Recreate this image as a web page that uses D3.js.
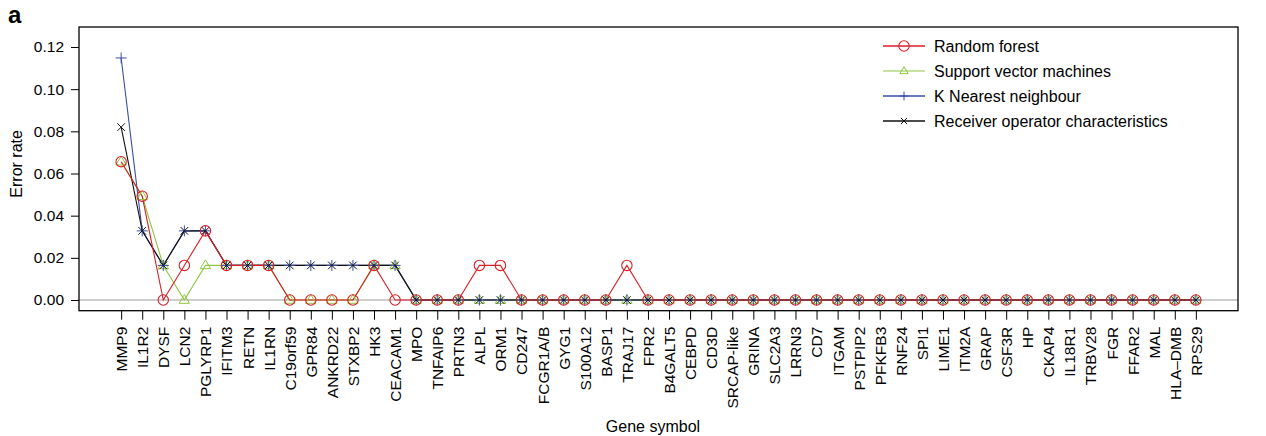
<!DOCTYPE html>
<html><head><meta charset="utf-8">
<script src="https://cdn.jsdelivr.net/npm/d3@7"></script>
<style>body{margin:0;background:#fff}svg{display:block;font-family:"Liberation Sans",Arial,Helvetica,sans-serif}</style>
</head><body><svg id="c" width="1266" height="436"></svg>
<script>
const genes = ["MMP9","IL1R2","DYSF","LCN2","PGLYRP1","IFITM3","RETN","IL1RN","C19orf59","GPR84","ANKRD22","STXBP2","HK3","CEACAM1","MPO","TNFAIP6","PRTN3","ALPL","ORM1","CD247","FCGR1A/B","GYG1","S100A12","BASP1","TRAJ17","FPR2","B4GALT5","CEBPD","CD3D","SRCAP-like","GRINA","SLC2A3","LRRN3","CD7","ITGAM","PSTPIP2","PFKFB3","RNF24","SPI1","LIME1","ITM2A","GRAP","CSF3R","HP","CKAP4","IL18R1","TRBV28","FGR","FFAR2","MAL","HLA\u2013DMB","RPS29"];
const rfHead  = [0.0656,0.0492,0,0.0164,0.0328,0.0164,0.0164,0.0164,0,0,0,0,0.0164,0,0,0,0,0.0164,0.0164,0,0,0,0,0,0.0164];
const svmHead = [0.0656,0.0492,0.0164,0,0.0164,0.0164,0.0164,0.0164,0,0,0,0,0.0164,0.0164];
const knnHead = [0.1148,0.0328,0.0164,0.0328,0.0328,0.0164,0.0164,0.0164,0.0164,0.0164,0.0164,0.0164,0.0164,0.0164];
const rocHead = [0.0820,0.0328,0.0164,0.0328,0.0328,0.0164,0.0164,0.0164,0.0164,0.0164,0.0164,0.0164,0.0164,0.0164];
const yTicks = [0,0.02,0.04,0.06,0.08,0.10,0.12];
const seriesNames = ["Random forest","Support vector machines","K Nearest neighbour","Receiver operator characteristics"];

const pad = a => genes.map((g,i)=> i < a.length ? a[i] : 0);
const rf = pad(rfHead), svm = pad(svmHead), knn = pad(knnHead), roc = pad(rocHead);

const svg = d3.select("#c");
const L=79, R=1238, T=27, B=310.7;
const x = d3.scaleLinear().domain([-2, 53]).range([L, R]);
const y = d3.scaleLinear().domain([0, 0.12]).range([300, 47]);

const cols = {rf:"#dc1f26", svm:"#8dc63f", knn:"#3a4ca8", roc:"#111111"};
const FF = "Liberation Sans, Arial, sans-serif";

svg.append("line").attr("x1",L).attr("x2",R).attr("y1",y(0)).attr("y2",y(0))
  .attr("stroke","#bdbdbd").attr("stroke-width",1.5);

const line = d3.line().x((d,i)=>x(i)).y(d=>y(d));

function marker(g, type, cx, cy, col, k){
  k = k||1;
  if(type==="circle"){
    g.append("circle").attr("cx",cx).attr("cy",cy).attr("r",5.2*k).attr("fill","none").attr("stroke",col).attr("stroke-width",1.1);
  } else if(type==="tri"){
    const s=5.5*k;
    g.append("path").attr("d",`M${cx},${cy-s}L${cx+s*0.95},${cy+s*0.6}L${cx-s*0.95},${cy+s*0.6}Z`).attr("fill","none").attr("stroke",col).attr("stroke-width",1);
  } else if(type==="plus"){
    const s=5.5*k;
    g.append("path").attr("d",`M${cx-s},${cy}H${cx+s}M${cx},${cy-s}V${cy+s}`).attr("stroke",col).attr("stroke-width",1);
  } else {
    const s=3.8*k;
    g.append("path").attr("d",`M${cx-s},${cy-s}L${cx+s},${cy+s}M${cx-s},${cy+s}L${cx+s},${cy-s}`).attr("stroke",col).attr("stroke-width",1);
  }
}

const series = [
  {data:svm, col:cols.svm, m:"tri"},
  {data:knn, col:cols.knn, m:"plus"},
  {data:roc, col:cols.roc, m:"x"},
  {data:rf, col:cols.rf, m:"circle"}
];
series.forEach(s=>{
  svg.append("path").datum(s.data).attr("d",line).attr("fill","none").attr("stroke",s.col).attr("stroke-width",1.1);
});
series.forEach(s=>{
  const g = svg.append("g");
  s.data.forEach((v,i)=>marker(g, s.m, x(i), y(v), s.col));
});

svg.append("rect").attr("x",L).attr("y",T).attr("width",R-L).attr("height",B-T).attr("fill","none").attr("stroke","#000").attr("stroke-width",1.3);

const ya = svg.append("g").attr("transform",`translate(${L},0)`)
  .call(d3.axisLeft(y).tickValues(yTicks).tickFormat(d3.format(".2f")).tickSize(8).tickPadding(7));
ya.select(".domain").remove();
ya.selectAll("text").attr("font-size",15.5).attr("fill","#000").attr("font-family",FF);
ya.selectAll("line").attr("stroke","#000");

const xa = svg.append("g").attr("transform",`translate(0,${B})`)
  .call(d3.axisBottom(x).tickValues(d3.range(genes.length)).tickFormat(i=>genes[i]).tickSize(9));
xa.select(".domain").remove();
xa.selectAll("line").attr("stroke","#000");
xa.selectAll("text").attr("font-size",15.5).attr("fill","#000").attr("font-family",FF)
  .attr("transform","rotate(-90)").attr("text-anchor","end").attr("x",-16).attr("y",0).attr("dy","0.35em");

svg.append("text").attr("x",8).attr("y",23).attr("font-size",24).attr("font-weight","bold").text("a");
svg.append("text").attr("transform",`translate(22,${(T+B)/2-5}) rotate(-90)`).attr("text-anchor","middle").attr("font-size",16).text("Error rate");
svg.append("text").attr("x",653).attr("y",432).attr("text-anchor","middle").attr("font-size",16).text("Gene symbol");

const lg = svg.append("g");
const legM = ["circle","tri","plus","x"], legC=[cols.rf,cols.svm,cols.knn,cols.roc];
seriesNames.forEach((n,i)=>{
  const yy = 46 + i*25;
  lg.append("line").attr("x1",883).attr("x2",925).attr("y1",yy).attr("y2",yy).attr("stroke",legC[i]).attr("stroke-width",i===1?1:1.6);
  marker(lg, legM[i], 904, yy, legC[i], i===0?1:0.8);
  lg.append("text").attr("x",934).attr("y",yy).attr("dy","0.35em").attr("font-size",16).text(n);
});
</script></body></html>
